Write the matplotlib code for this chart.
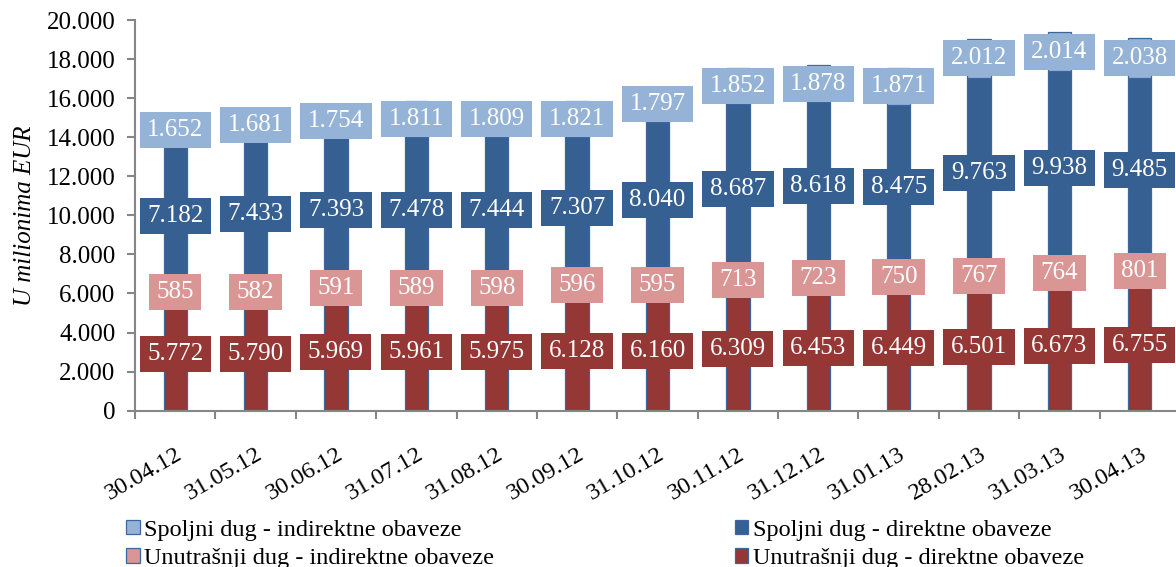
import numpy as np
import matplotlib
matplotlib.use("Agg")
import matplotlib.pyplot as plt
from matplotlib.path import Path

plt.rcParams['font.family'] = ['Liberation Serif', 'DejaVu Serif']

# Data
dates = ['30.04.12', '31.05.12', '30.06.12', '31.07.12', '31.08.12', '30.09.12', '31.10.12',
         '30.11.12', '31.12.12', '31.01.13', '28.02.13', '31.03.13', '30.04.13']
unut_dir = [5772, 5790, 5969, 5961, 5975, 6128, 6160, 6309, 6453, 6449, 6501, 6673, 6755]
unut_ind = [585, 582, 591, 589, 598, 596, 595, 713, 723, 750, 767, 764, 801]
spolj_dir = [7182, 7433, 7393, 7478, 7444, 7307, 8040, 8687, 8618, 8475, 9763, 9938, 9485]
spolj_ind = [1652, 1681, 1754, 1811, 1809, 1821, 1797, 1852, 1878, 1871, 2012, 2014, 2038]

series = [
    ('Unutrašnji dug - direktne obaveze', unut_dir, '#953735'),
    ('Unutrašnji dug - indirektne obaveze', unut_ind, '#d99694'),
    ('Spoljni dug - direktne obaveze', spolj_dir, '#376092'),
    ('Spoljni dug - indirektne obaveze', spolj_ind, '#95b3d7'),
]


def fmt(v):
    return f"{v:,.0f}".replace(',', '.')


# box around labels: wider than tall
def label_box(x0, y0, width, height, mutation_size):
    px, py = 0.30 * mutation_size, 0.28 * mutation_size
    x0, y0 = x0 - px, y0 - py
    x1, y1 = x0 + width + 2 * px, y0 + height + 2 * py
    return Path([(x0, y0), (x1, y0), (x1, y1), (x0, y1), (x0, y0)], closed=True)


fig = plt.figure(figsize=(11.76, 5.67), dpi=100)
ax = fig.add_axes([0.1148, 0.2757, 0.8886, 0.689])

x = np.arange(len(dates))
bottom = np.zeros(len(dates))
bars = {}
for name, vals, col in series:
    vals = np.array(vals, dtype=float)
    b = ax.bar(x, vals, 0.29, bottom=bottom, color=col, edgecolor='#3d669c', linewidth=0.9,
               label=name, zorder=2)
    bars[name] = b
    for xi, v, b0 in zip(x, vals, bottom):
        ax.text(xi, b0 + v / 2, fmt(v), ha='center', va='center', color='white', fontsize=18,
                zorder=5, bbox=dict(boxstyle=label_box, fc=col, ec='none'))
    bottom += vals

ax.set_ylim(0, 20000)
ax.set_xlim(-0.5, len(dates) - 0.5)
ax.set_yticks(np.arange(0, 20001, 2000))
ax.set_yticklabels([fmt(v) for v in np.arange(0, 20001, 2000)], fontsize=18)
ax.set_xticks(x)
ax.set_xticklabels(dates, rotation=30, ha='right', rotation_mode='anchor', fontsize=17.5)
ax.set_xticks(np.arange(-0.5, len(dates), 1), minor=True)
ax.tick_params(axis='x', which='major', length=0, pad=24)
ax.tick_params(axis='x', which='minor', length=6, color='#868686', width=1.5)
ax.tick_params(axis='y', length=6, color='#868686', width=1.5, pad=8)
for s in ['top', 'right']:
    ax.spines[s].set_visible(False)
for s in ['left', 'bottom']:
    ax.spines[s].set_color('#868686')
    ax.spines[s].set_linewidth(1.5)

ax.set_ylabel('U milionima EUR', fontsize=18, style='italic', labelpad=8)

handles = [bars['Spoljni dug - indirektne obaveze'], bars['Unutrašnji dug - indirektne obaveze'],
           bars['Spoljni dug - direktne obaveze'], bars['Unutrašnji dug - direktne obaveze']]
labels = ['Spoljni dug - indirektne obaveze', 'Unutrašnji dug - indirektne obaveze',
          'Spoljni dug - direktne obaveze', 'Unutrašnji dug - direktne obaveze']
fig.legend(handles, labels, ncol=2, loc='upper left', bbox_to_anchor=(0.097, 0.105),
           frameon=False, fontsize=17.5, handlelength=0.55, handleheight=0.55, handletextpad=0.2,
           columnspacing=9.9, labelspacing=0.3, borderpad=0)

fig.savefig('out.png', dpi=100)
